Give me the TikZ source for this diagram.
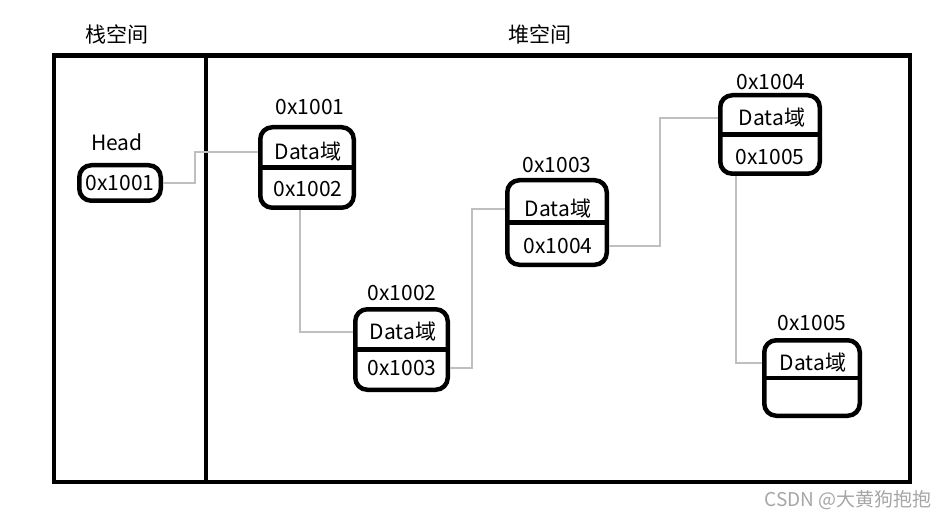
\documentclass[tikz,border=0pt]{standalone}
\usepackage{fontspec}
\setmainfont{Noto Sans CJK SC}
\usetikzlibrary{positioning}
\tikzset{
  cell/.style={draw,line width=4.5pt,rounded corners=12pt,inner sep=0pt},
  sep/.style={line width=4.5pt},
  link/.style={draw=black!25,line width=2.5pt},
  txt/.style={inner sep=0pt,font=\fontsize{21}{23}\selectfont},
}
\begin{document}
\begin{tikzpicture}[x=1pt,y=-1pt]
\useasboundingbox (0,0) rectangle (952,521);
% frame: stack | heap
\draw[line width=4.5pt] (54,55.5) rectangle (910,482);
\draw[line width=4.5pt] (206,55.5) -- (206,482);
\node[txt] (stack) at (117,34) {栈空间};
\node[txt] (heap) at (540,34) {堆空间};
% head pointer
\node[txt] (headlbl) at (117,142) {Head};
\node[cell,minimum width=81.5pt,minimum height=35.5pt] (head) at (120,183) {};
\node[txt] (hv) at (120,183) {0x1001};
% list nodes
\node[cell,minimum width=93.5pt,minimum height=80.5pt] (n1) at (307,167.5) {};
\node[cell,minimum width=92.5pt,minimum height=80.5pt] (n2) at (401.5,349.5) {};
\node[cell,minimum width=99.5pt,minimum height=84.5pt] (n3) at (557,222.5) {};
\node[cell,minimum width=99.5pt,minimum height=78.5pt] (n4) at (770,134.5) {};
\node[cell,minimum width=95.5pt,minimum height=75.5pt] (n5) at (812,378) {};
\draw[sep] (n1.west) -- (n1.east);
\draw[sep] (n2.west) -- (n2.east);
\draw[sep] (n3.west) -- (n3.east);
\draw[sep] (n4.west) -- (n4.east);
\draw[sep] (n5.west) -- (n5.east);
% addresses above the nodes
\node[txt] (l1) at (310,107) {0x1001};
\node[txt] (l2) at (402,293) {0x1002};
\node[txt] (l3) at (557,165) {0x1003};
\node[txt] (l4) at (771,82) {0x1004};
\node[txt] (l5) at (812,323) {0x1005};
% data / next fields
\node[txt] (d1) at (308,152) {Data域};
\node[txt] (a1) at (308,189) {0x1002};
\node[txt] (d2) at (403,332) {Data域};
\node[txt] (a2) at (402,368) {0x1003};
\node[txt] (d3) at (558,209) {Data域};
\node[txt] (a3) at (558,246) {0x1004};
\node[txt] (d4) at (772,118) {Data域};
\node[txt] (a4) at (770,157) {0x1005};
\node[txt] (d5) at (813,363) {Data域};
% links
\draw[link] (head.east) -- ++(32,0) |- (n1.west |- d1);
\draw[link] ([xshift=-7pt]n1.south) |- (n2.west |- d2);
\draw[link] (n2.east |- a2) -- ++(22,0) |- (n3.west |- d3);
\draw[link] (n3.east |- a3) -- ++(51,0) |- (n4.west |- d4);
\draw[link] ([xshift=-34pt]n4.south) |- (n5.west |- d5);
\node[txt,font=\fontsize{19}{21}\selectfont,text=black!35] (mark) at (848,500) {CSDN @大黄狗抱抱};
\end{tikzpicture}
\end{document}
